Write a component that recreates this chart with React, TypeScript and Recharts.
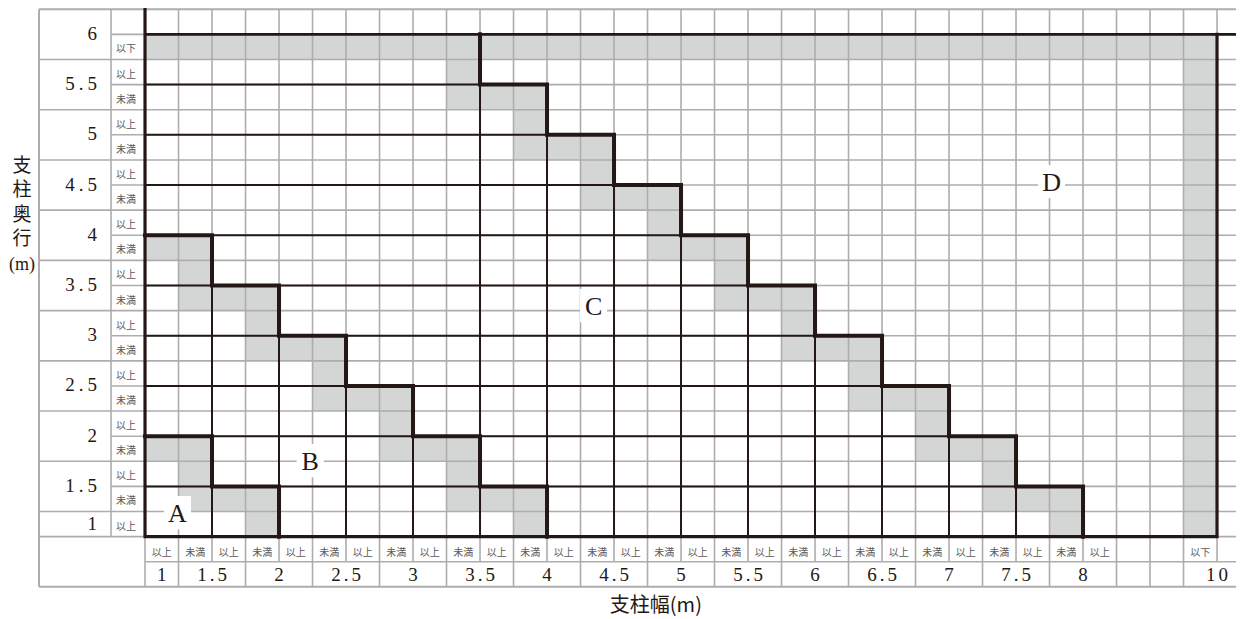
import React from "react";
import { ComposedChart, XAxis, YAxis, Line, ReferenceArea, ReferenceLine } from "recharts";

const INK = "#231815";
const RULE = "#adadad";
const SHADE = "#d4d6d5";
const SUBINK = "#595757";
const SERIF = "'Liberation Serif', 'DejaVu Serif', 'Noto Sans CJK JP', serif";
const CJK = "'Noto Sans CJK JP', sans-serif";

// x in grid columns (0 = first 以上 column), y in grid rows counted downward
const X_MIN = -4.09;
const X_MAX = 33.82;
const Y_MIN = -0.05;
const Y_MAX = 24.28;
const LEFT = -3.164; // outer left border of the table
const SUB = -1.015; // 以上/未満 column of the depth labels
const X_END = 33;

// 支柱奥行 (rows, top to bottom)
const depthLabels = ["6", "5.5", "5", "4.5", "4", "3.5", "3", "2.5", "2", "1.5", "1"];
const depthSpans = [2, 2, 2, 2, 2, 2, 2, 2, 2, 2, 1];
const depthSubLabels = [
  "", "以下", "以上", "未満", "以上", "未満", "以上", "未満", "以上", "未満", "以上",
  "未満", "以上", "未満", "以上", "未満", "以上", "未満", "以上", "未満", "以上",
];

// 支柱幅 (columns, left to right)
const widthLabels = ["1", "1.5", "2", "2.5", "3", "3.5", "4", "4.5", "5", "5.5", "6", "6.5", "7", "7.5", "8", "", "", "10"];
const widthSpans = [1, 2, 2, 2, 2, 2, 2, 2, 2, 2, 2, 2, 2, 2, 2, 1, 1, 2];
const widthSubLabels = [
  "以上", "未満", "以上", "未満", "以上", "未満", "以上", "未満", "以上", "未満",
  "以上", "未満", "以上", "未満", "以上", "未満", "以上", "未満", "以上", "未満",
  "以上", "未満", "以上", "未満", "以上", "未満", "以上", "未満", "以上", "", "", "以下", "",
];

// region boundaries (corner points)
const stepCD = [[10, 1], [10, 3], [12, 3], [12, 5], [14, 5], [14, 7], [16, 7], [16, 9], [18, 9], [18, 11], [20, 11], [20, 13], [22, 13], [22, 15], [24, 15], [24, 17], [26, 17], [26, 19], [28, 19], [28, 21]];
const stepBC = [[0, 9], [2, 9], [2, 11], [4, 11], [4, 13], [6, 13], [6, 15], [8, 15], [8, 17], [10, 17], [10, 19], [12, 19], [12, 21]];
const stepAB = [[0, 17], [2, 17], [2, 19], [4, 19], [4, 21]];
const frameD = [[0, 0], [0, 21], [32, 21], [32, 1]];
const topRule = [[0, 1], [X_END, 1]];

// shaded cells: [row, fromCol, toCol]
const shadeCD = [[2, 9, 9], [3, 9, 11], [4, 11, 11], [5, 11, 13], [6, 13, 13], [7, 13, 15], [8, 15, 15], [9, 15, 17], [10, 17, 17], [11, 17, 19], [12, 19, 19], [13, 19, 21], [14, 21, 21], [15, 21, 23], [16, 23, 23], [17, 23, 25], [18, 25, 25], [19, 25, 27], [20, 27, 27]];
const shadeBC = [[9, 0, 1], [10, 1, 1], [11, 1, 3], [12, 3, 3], [13, 3, 5], [14, 5, 5], [15, 5, 7], [16, 7, 7], [17, 7, 9], [18, 9, 9], [19, 9, 11], [20, 11, 11]];
const shadeAB = [[17, 0, 1], [18, 1, 1], [19, 1, 3], [20, 3, 3]];
// [fromCol, toCol, fromRow, toRow]
const shadeLimit = [[0, 31, 1, 1], [31, 31, 2, 20]];

// thin black rules inside A/B/C: [row, fromCol, toCol] and [col, fromRow, toRow]
const inkRows = [[3, 0, 10], [5, 0, 12], [7, 0, 14], [9, 0, 16], [11, 0, 18], [13, 0, 20], [15, 0, 22], [17, 0, 24], [19, 0, 26]];
const inkCols = [[2, 11, 21], [4, 13, 21], [6, 15, 21], [8, 17, 21], [10, 3, 21], [12, 5, 21], [14, 7, 21], [16, 9, 21], [18, 11, 21], [20, 13, 21], [22, 15, 21], [24, 17, 21], [26, 19, 21]];

const regionLetters = [
  { text: "A", x: 0.97, y: 20.05 },
  { text: "B", x: 4.93, y: 17.97 },
  { text: "C", x: 13.39, y: 11.8 },
  { text: "D", x: 27.06, y: 6.86 },
];

const depthTitle = ["支", "柱", "奥", "行", "(m)"];
const widthTitle = "支柱幅(m)";

const toPts = (pts: number[][]) => pts.map(([x, y]) => ({ x, y }));

const CellText = (props: any) => {
  const { viewBox, text, size = 19, color = INK, anchor = "middle", inset = 0, shiftY = 0, spacing = 0, font = SERIF } = props;
  if (!viewBox || !text) return null;
  const { x, y, width, height } = viewBox;
  const tx = anchor === "start" ? x + inset : anchor === "end" ? x + width - inset + spacing : x + width / 2 + spacing / 2;
  return (
    <text x={tx} y={y + height / 2 + shiftY} textAnchor={anchor} dominantBaseline="central"
      fontSize={size} fill={color} fontFamily={font} letterSpacing={spacing}>
      {text}
    </text>
  );
};
const txt = (opts: any) => (p: any) => <CellText viewBox={p.viewBox} {...opts} />;

const LetterBox = (props: any) => {
  const { viewBox, text } = props;
  if (!viewBox) return null;
  const { x, y, width, height } = viewBox;
  return (
    <g>
      <rect x={x} y={y} width={width} height={height} fill="#ffffff" />
      <text x={x + width / 2} y={y + height / 2 + 1} textAnchor="middle" dominantBaseline="central" fontSize={26} fill={INK} fontFamily={SERIF}>
        {text}
      </text>
    </g>
  );
};

// vertical title: one text, stacked with tspans
const StackedTitle = (props: any) => {
  const { viewBox } = props;
  if (!viewBox) return null;
  const { x, y, width } = viewBox;
  const cx = x + width / 2;
  return (
    <text x={cx} y={y + 18} textAnchor="middle" fill={INK} fontFamily={CJK} fontSize={19}>
      {depthTitle.map((ch, i) => (
        <tspan key={i} x={cx} dy={i === 0 ? 0 : 24.5} fontFamily={ch.length > 1 ? SERIF : CJK} fontSize={ch.length > 1 ? 18 : 19}>
          {ch}
        </tspan>
      ))}
    </text>
  );
};

const edges = (spans: number[]) => spans.reduce((acc, s) => [...acc, acc[acc.length - 1] + s], [0]);

export default function App() {
  const depthEdges = edges(depthSpans);
  const widthEdges = edges(widthSpans);

  // gray table rules
  const grayH: number[][] = [];
  for (let r = 0; r <= 23; r++) {
    if (r === 22) grayH.push([r, 0, X_END]);
    else if (r <= 21 && !depthEdges.includes(r)) grayH.push([r, SUB, X_END]);
    else grayH.push([r, LEFT, X_END]);
  }
  const grayV: number[][] = [[LEFT, 0, 23], [SUB, 0, 21]];
  for (let c = 0; c <= X_END; c++) grayV.push([c, 0, widthEdges.includes(c) ? 23 : 22]);

  return (
    <div style={{ width: 1236, height: 611, overflow: "hidden", position: "relative" }}>
      <ComposedChart width={1270} height={611} margin={{ top: 0, right: 0, bottom: 0, left: 0 }}>
        <XAxis type="number" dataKey="x" domain={[X_MIN, X_MAX]} hide allowDataOverflow />
        <YAxis type="number" domain={[Y_MIN, Y_MAX]} reversed hide allowDataOverflow />

        {[...shadeCD, ...shadeBC, ...shadeAB].map(([r, c1, c2], i) => (
          <ReferenceArea key={`s${i}`} x1={c1} x2={c2 + 1} y1={r} y2={r + 1} fill={SHADE} fillOpacity={1} stroke="none" />
        ))}
        {shadeLimit.map(([c1, c2, r1, r2], i) => (
          <ReferenceArea key={`sl${i}`} x1={c1} x2={c2 + 1} y1={r1} y2={r2 + 1} fill={SHADE} fillOpacity={1} stroke="none" />
        ))}

        {grayH.map(([r, a, b], i) => (
          <ReferenceLine key={`gh${i}`} segment={[{ x: a, y: r }, { x: b, y: r }]} stroke={RULE}
            strokeWidth={r === 0 || r === 23 ? 2 : 1.6} />
        ))}
        {grayV.map(([c, a, b], i) => (
          <ReferenceLine key={`gv${i}`} segment={[{ x: c, y: a }, { x: c, y: b }]} stroke={RULE}
            strokeWidth={c === LEFT ? 2 : 1.6} />
        ))}

        {inkRows.map(([r, a, b], i) => (
          <ReferenceLine key={`ih${i}`} segment={[{ x: a, y: r }, { x: b, y: r }]} stroke={INK} strokeWidth={2} />
        ))}
        {inkCols.map(([c, a, b], i) => (
          <ReferenceLine key={`iv${i}`} segment={[{ x: c, y: a }, { x: c, y: b }]} stroke={INK} strokeWidth={2} />
        ))}

        {/* depth labels */}
        {depthLabels.map((t, i) => (
          <ReferenceArea key={`dl${i}`} x1={LEFT} x2={SUB} y1={depthEdges[i]} y2={depthEdges[i + 1]} fill="none" fillOpacity={0} stroke="none"
            label={txt({ text: t, anchor: "end", inset: 14, spacing: 4, shiftY: -1 })} />
        ))}
        {depthSubLabels.map((t, i) => (
          <ReferenceArea key={`ds${i}`} x1={SUB} x2={0} y1={i} y2={i + 1} fill="none" fillOpacity={0} stroke="none"
            label={txt({ text: t, anchor: "start", inset: 5, size: 10, color: SUBINK, font: CJK, shiftY: 1 })} />
        ))}

        {/* width labels */}
        {widthSubLabels.map((t, i) => (
          <ReferenceArea key={`ws${i}`} x1={i} x2={i + 1} y1={21} y2={22} fill="none" fillOpacity={0} stroke="none"
            label={txt({ text: t, size: 10, color: SUBINK, font: CJK, shiftY: 2 })} />
        ))}
        {widthLabels.map((t, i) => (
          <ReferenceArea key={`wl${i}`} x1={widthEdges[i]} x2={widthEdges[i + 1]} y1={22} y2={23} fill="none" fillOpacity={0} stroke="none"
            label={txt({ text: t, spacing: 3, shiftY: 0 })} />
        ))}

        {/* axis titles */}
        <ReferenceArea x1={13.5} x2={17.0} y1={23.2} y2={24.1} fill="none" fillOpacity={0} stroke="none"
          label={txt({ text: widthTitle, size: 20, font: CJK })} />
        <ReferenceArea x1={-4.0} x2={-3.344} y1={5.75} y2={10.8} fill="none" fillOpacity={0} stroke="none"
          label={(p: any) => <StackedTitle viewBox={p.viewBox} />} />

        <Line data={toPts(frameD)} dataKey="y" type="linear" stroke={INK} strokeWidth={3.2} dot={false} activeDot={false}
          isAnimationActive={false} strokeLinejoin="miter" strokeLinecap="square" />
        <Line data={toPts(topRule)} dataKey="y" type="linear" stroke={INK} strokeWidth={2.6} dot={false} activeDot={false}
          isAnimationActive={false} strokeLinecap="butt" />
        {[stepCD, stepBC, stepAB].map((s, i) => (
          <Line key={`st${i}`} data={toPts(s)} dataKey="y" type="linear" stroke={INK} strokeWidth={4} dot={false} activeDot={false}
            isAnimationActive={false} strokeLinejoin="miter" strokeLinecap="square" />
        ))}

        {regionLetters.map((l, i) => (
          <ReferenceArea key={`rl${i}`} {...({ zIndex: 2500 } as any)} x1={l.x - 0.4} x2={l.x + 0.4} y1={l.y - 0.66} y2={l.y + 0.66}
            fill="#ffffff" fillOpacity={1} stroke="none"
            label={(p: any) => <LetterBox viewBox={p.viewBox} text={l.text} />} />
        ))}
      </ComposedChart>
    </div>
  );
}
